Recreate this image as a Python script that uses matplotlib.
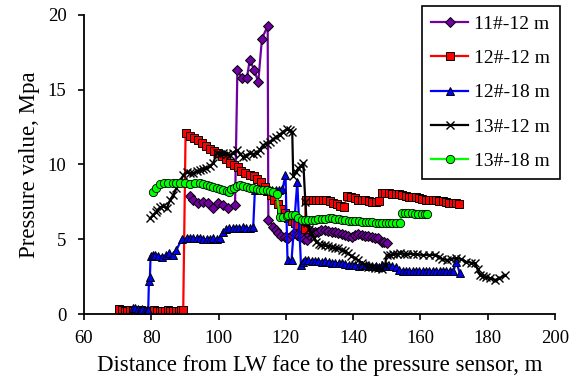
import matplotlib
matplotlib.use("Agg")
import matplotlib.pyplot as plt

plt.rcParams['font.family'] = ['Liberation Serif', 'DejaVu Serif']

# 11#-12 m
x_11_12 = [91.5, 92.5, 94.0, 95.5, 96.9, 98.4, 99.9, 101.4, 102.9, 104.9,
           105.6, 107.0, 108.4, 109.3, 110.6, 111.8, 112.9, 114.6,
           114.8, 116.3, 117.0, 117.7, 118.7, 119.7, 120.7, 121.7, 122.5, 123.2,
           124.0, 124.7, 125.5, 126.2, 127.0, 127.8, 128.6, 129.6, 130.6, 131.6,
           132.6, 133.6, 134.6, 135.6, 136.6, 137.6, 138.6, 139.6, 140.6, 141.5,
           142.5, 143.5, 144.5, 145.5, 146.5, 147.5, 148.5, 149.3, 150.0]
y_11_12 = [7.9, 7.63, 7.41, 7.52, 7.41, 7.08, 7.41, 7.3, 7.08, 7.3,
           16.3, 15.75, 15.75, 17.0, 16.3, 15.5, 18.4, 19.25,
           6.3, 5.85, 5.6, 5.4, 5.2, 5.18, 5.1, 5.3, 5.4, 5.3,
           5.2, 5.18, 5.0, 4.96, 5.3, 5.5, 5.52, 5.5, 5.6, 5.63,
           5.55, 5.5, 5.52, 5.4, 5.35, 5.3, 5.25, 5.18, 5.3, 5.35,
           5.3, 5.2, 5.25, 5.18, 5.1, 5.07, 4.85, 4.8, 4.74]

# 12#-12 m
x_12_12 = [70.5, 71.3, 72.1, 72.9, 73.7, 74.5, 75.3, 76.1, 76.9, 77.7,
           78.5, 79.3, 80.1, 80.9, 81.7, 82.5, 83.3, 84.1, 84.9, 85.7,
           86.5, 87.3, 88.1, 88.9, 89.5,
           90.2, 91.5, 92.7, 93.8, 95.0, 96.2, 97.4, 98.6, 99.8, 101.0,
           102.2, 103.4, 104.5, 105.7, 106.8, 108.0, 109.2, 110.4, 111.5, 112.7,
           113.7, 114.5, 115.5, 116.6, 117.6, 118.6, 119.7, 120.7, 121.7, 122.7,
           123.7, 124.7, 125.6,
           126.0, 127.0, 128.0, 129.0, 130.0, 131.0, 132.0, 133.1, 134.1, 135.1,
           136.1, 137.3, 138.3, 139.4, 140.5, 141.5, 142.5, 143.5, 144.6, 145.6,
           146.7, 147.7, 148.6, 149.6, 150.6, 151.6, 152.6, 153.6, 154.6, 155.6,
           156.6, 157.6, 158.6, 159.6, 160.6, 161.6, 162.6, 163.6, 164.6, 165.6,
           166.6, 167.6, 168.6, 169.6, 170.6, 171.4]
y_12_12 = [0.35, 0.3, 0.25, 0.25, 0.3, 0.25, 0.2, 0.25, 0.3, 0.25,
           0.2, 0.25, 0.25, 0.3, 0.25, 0.2, 0.25, 0.25, 0.3, 0.25,
           0.25, 0.2, 0.25, 0.3, 0.3,
           12.08, 11.9, 11.8, 11.65, 11.45, 11.25, 11.05, 10.9, 10.8, 10.55,
           10.35, 10.1, 9.95, 9.8, 9.55, 9.45, 9.3, 9.2, 9.05, 8.85,
           8.5, 8.2, 7.96, 7.63, 7.35, 7.05, 6.75, 6.4, 6.2, 6.07,
           5.95, 5.85, 5.7,
           7.6, 7.63, 7.63, 7.65, 7.63, 7.63, 7.6, 7.55, 7.45, 7.35,
           7.25, 7.18, 7.9, 7.85, 7.74, 7.65, 7.63, 7.6, 7.55, 7.5,
           7.5, 7.55, 8.1, 8.12, 8.1, 8.05, 8.0, 8.0, 7.95, 7.9,
           7.85, 7.8, 7.8, 7.75, 7.7, 7.65, 7.6, 7.6, 7.6, 7.55,
           7.55, 7.5, 7.45, 7.4, 7.4, 7.35]

# 12#-18 m
x_12_18 = [74.7, 75.3, 76.0, 76.7, 77.3, 78.0, 78.6, 79.1, 79.3, 79.6,
           79.8, 80.5, 81.1, 82.1, 83.1, 84.4, 85.4, 86.4, 87.5, 89.0,
           90.5, 91.5, 92.5, 93.5, 94.5, 95.5, 96.5, 97.5, 98.4, 99.4,
           100.4, 101.2, 102.2, 103.2, 104.2, 105.2, 106.2, 107.2, 108.2, 109.2,
           110.3, 110.8, 112.0, 113.0, 114.0, 115.0, 116.0, 117.0, 118.0, 119.0,
           119.9, 120.5, 121.7, 123.4, 124.5, 125.0, 125.7, 126.7, 127.7, 128.7,
           129.7, 130.7, 131.7, 132.7, 133.7, 134.7, 135.7, 136.7, 137.7, 138.7,
           139.7, 140.7, 141.7, 142.7, 143.7, 144.7, 145.7, 146.7, 147.7, 148.7,
           149.7, 150.7, 151.7, 152.7, 153.7, 154.7, 155.7, 156.7, 157.7, 158.7,
           159.7, 160.7, 161.7, 162.7, 163.7, 164.7, 165.7, 166.7, 167.7, 168.7,
           169.8, 170.7, 171.7]
y_12_18 = [0.45, 0.4, 0.35, 0.3, 0.35, 0.3, 0.3, 0.29, 2.25, 2.5,
           3.9, 3.95, 3.95, 3.9, 3.85, 3.95, 4.07, 3.95, 4.3, 5.0,
           5.07, 5.07, 5.07, 5.07, 5.07, 5.0, 5.0, 5.0, 5.07, 5.0,
           5.1, 5.5, 5.7, 5.75, 5.75, 5.75, 5.75, 5.8, 5.75, 5.75,
           5.8, 8.3, 8.35, 8.3, 8.3, 8.35, 8.3, 8.3, 8.3, 8.35,
           9.3, 3.62, 3.62, 8.85, 3.3, 3.5, 3.62, 3.6, 3.56, 3.56,
           3.55, 3.5, 3.56, 3.5, 3.45, 3.45, 3.4, 3.4, 3.35, 3.3,
           3.3, 3.3, 3.25, 3.3, 3.3, 3.25, 3.2, 3.2, 3.18, 3.3,
           3.25, 3.2, 3.2, 3.15, 2.95, 2.9, 2.9, 2.9, 2.9, 2.9,
           2.9, 2.9, 2.9, 2.9, 2.9, 2.9, 2.9, 2.9, 2.9, 2.9,
           2.9, 3.5, 2.74]

# 13#-12 m
x_13_12 = [79.6, 80.6, 81.3, 81.8, 82.6, 83.6, 84.6, 85.6, 86.5, 87.5,
           88.5, 89.5, 90.5, 91.5, 92.5, 93.5, 94.5, 95.5, 96.4, 97.4,
           98.4, 99.4, 100.4, 101.4, 102.4, 103.4, 104.4, 105.4, 106.4, 107.3,
           108.3, 109.3, 110.3, 111.3, 112.3, 113.3, 114.3, 115.3, 116.2, 117.2,
           118.2, 119.2, 120.2, 121.2, 121.9, 122.2, 123.0, 123.7, 124.5, 125.2,
           125.8, 126.2, 127.0, 127.6, 128.3, 129.1, 130.0, 130.6, 131.6, 132.6,
           133.6, 134.6, 135.6, 136.6, 137.6, 138.5, 139.5, 140.5, 141.5, 142.5,
           143.5, 144.5, 145.5, 146.5, 147.5, 148.5, 149.5, 150.0, 150.9, 152.0,
           153.0, 153.9, 155.0, 156.0, 157.9, 159.0, 160.8, 162.5, 164.3, 165.5,
           166.5, 167.8, 169.0, 170.7, 172.0, 173.7, 175.0, 176.2, 177.0, 177.7,
           178.7, 179.6, 180.8, 182.1, 183.5, 185.1]
y_13_12 = [6.4, 6.63, 6.8, 6.96, 7.14, 7.23, 7.07, 7.63, 7.96, 8.41,
           8.74, 9.3, 9.5, 9.45, 9.41, 9.55, 9.63, 9.7, 9.75, 9.9,
           10.08, 10.75, 10.7, 10.75, 10.7, 10.63, 10.8, 10.97, 10.7, 10.52,
           10.6, 10.75, 10.7, 10.75, 11.0, 11.3, 11.4, 11.52, 11.7, 11.86,
           12.0, 12.19, 12.35, 12.3, 12.2, 9.2, 9.5, 9.75, 9.9, 10.08,
           7.5, 6.07, 5.7, 5.4, 5.1, 4.85, 4.7, 4.63, 4.6, 4.55,
           4.52, 4.45, 4.4, 4.3, 4.2, 4.07, 3.9, 3.75, 3.62, 3.45,
           3.3, 3.18, 3.15, 3.1, 3.07, 3.0, 3.3, 3.96, 3.96, 4.0,
           4.05, 4.07, 4.05, 4.03, 4.03, 4.0, 3.96, 3.96, 3.96, 3.85,
           3.7, 3.62, 3.7, 3.74, 3.7, 3.5, 3.45, 3.4, 3.0, 2.62,
           2.55, 2.51, 2.4, 2.29, 2.4, 2.62]

# 13#-18 m
x_13_18 = [80.4, 81.4, 82.6, 83.8, 85.1, 86.4, 87.5, 88.5, 90.0, 91.5,
           93.0, 94.5, 95.5, 96.5, 97.5, 98.4, 99.4, 100.4, 101.4, 102.4,
           103.0, 103.8, 104.6, 105.5, 106.4, 107.4, 108.4, 109.4, 110.3, 111.3,
           112.3, 113.3, 114.3, 115.3, 116.3, 117.3, 118.2, 119.2, 120.2, 120.7,
           121.7, 122.7, 123.7, 124.7, 125.7, 126.7, 127.7, 128.7, 129.7, 130.7,
           131.7, 132.7, 133.7, 134.7, 135.7, 136.7, 137.7, 138.7, 139.7, 140.7,
           141.7, 142.7, 143.7, 144.7, 145.7, 146.7, 147.7, 148.7, 149.7, 150.7,
           151.7, 152.7, 153.9, 154.4, 155.4, 156.4, 157.4, 158.4, 159.4, 160.4,
           161.4, 162.0]
y_13_18 = [8.19, 8.41, 8.7, 8.74, 8.74, 8.74, 8.76, 8.76, 8.74, 8.7,
           8.74, 8.74, 8.7, 8.65, 8.58, 8.52, 8.45, 8.36, 8.3, 8.22,
           8.19, 8.35, 8.45, 8.55, 8.63, 8.58, 8.52, 8.45, 8.41, 8.35,
           8.3, 8.3, 8.3, 8.25, 8.19, 8.0, 6.52, 6.5, 6.55, 6.63,
           6.6, 6.63, 6.45, 6.3, 6.3, 6.3, 6.32, 6.3, 6.34, 6.35,
           6.38, 6.4, 6.4, 6.38, 6.34, 6.32, 6.3, 6.25, 6.25, 6.22,
           6.2, 6.18, 6.18, 6.15, 6.15, 6.12, 6.12, 6.1, 6.1, 6.07,
           6.07, 6.07, 6.07, 6.74, 6.76, 6.74, 6.74, 6.72, 6.7, 6.7,
           6.7, 6.7]

fig = plt.figure(figsize=(5.76, 3.86), dpi=100)
ax = fig.add_axes([0.1458, 0.1857, 0.8177, 0.7763])

ax.plot(x_11_12, y_11_12, color='#7000A0', lw=1.6, marker='D', ms=5.5,
        mfc='#7000A0', mec='black', mew=0.7, label='11#-12 m')
ax.plot(x_12_12, y_12_12, color='#FF0000', lw=1.6, marker='s', ms=6,
        mfc='#FF0000', mec='black', mew=0.7, label='12#-12 m')
ax.plot(x_12_18, y_12_18, color='#0000FF', lw=1.6, marker='^', ms=6,
        mfc='#0000FF', mec='black', mew=0.7, label='12#-18 m')
ax.plot(x_13_12, y_13_12, color='black', lw=1.6, marker='x', ms=5.5,
        mec='black', mew=1.0, label='13#-12 m')
ax.plot(x_13_18, y_13_18, color='#00FF00', lw=1.6, marker='o', ms=6,
        mfc='#00FF00', mec='black', mew=0.6, label='13#-18 m')

ax.set_xlim(60, 200)
ax.set_ylim(0, 20)
ax.set_xticks(range(60, 201, 20))
ax.set_yticks(range(0, 21, 5))
ax.spines['top'].set_visible(False)
ax.spines['right'].set_visible(False)
ax.spines['left'].set_linewidth(1.3)
ax.spines['bottom'].set_linewidth(1.3)
ax.tick_params(direction='out', length=4, width=1.2, labelsize=13.5)
ax.tick_params(axis='x', pad=7.5)
ax.tick_params(axis='y', pad=8.5)
ax.set_xlabel('Distance from LW face to the pressure sensor, m', fontsize=16.5,
              labelpad=5.3)
ax.set_ylabel('Pressure value, Mpa', fontsize=16.5, labelpad=6)

leg = ax.legend(loc='upper right', bbox_to_anchor=(0.972, 0.985),
                bbox_transform=fig.transFigure, borderaxespad=0,
                fontsize=14, frameon=True, fancybox=False, edgecolor='black',
                framealpha=1, handlelength=1.9, labelspacing=0.85,
                handletextpad=0.3, borderpad=0.5)
leg.get_frame().set_linewidth(1.2)

fig.savefig('out.png', dpi=100)
